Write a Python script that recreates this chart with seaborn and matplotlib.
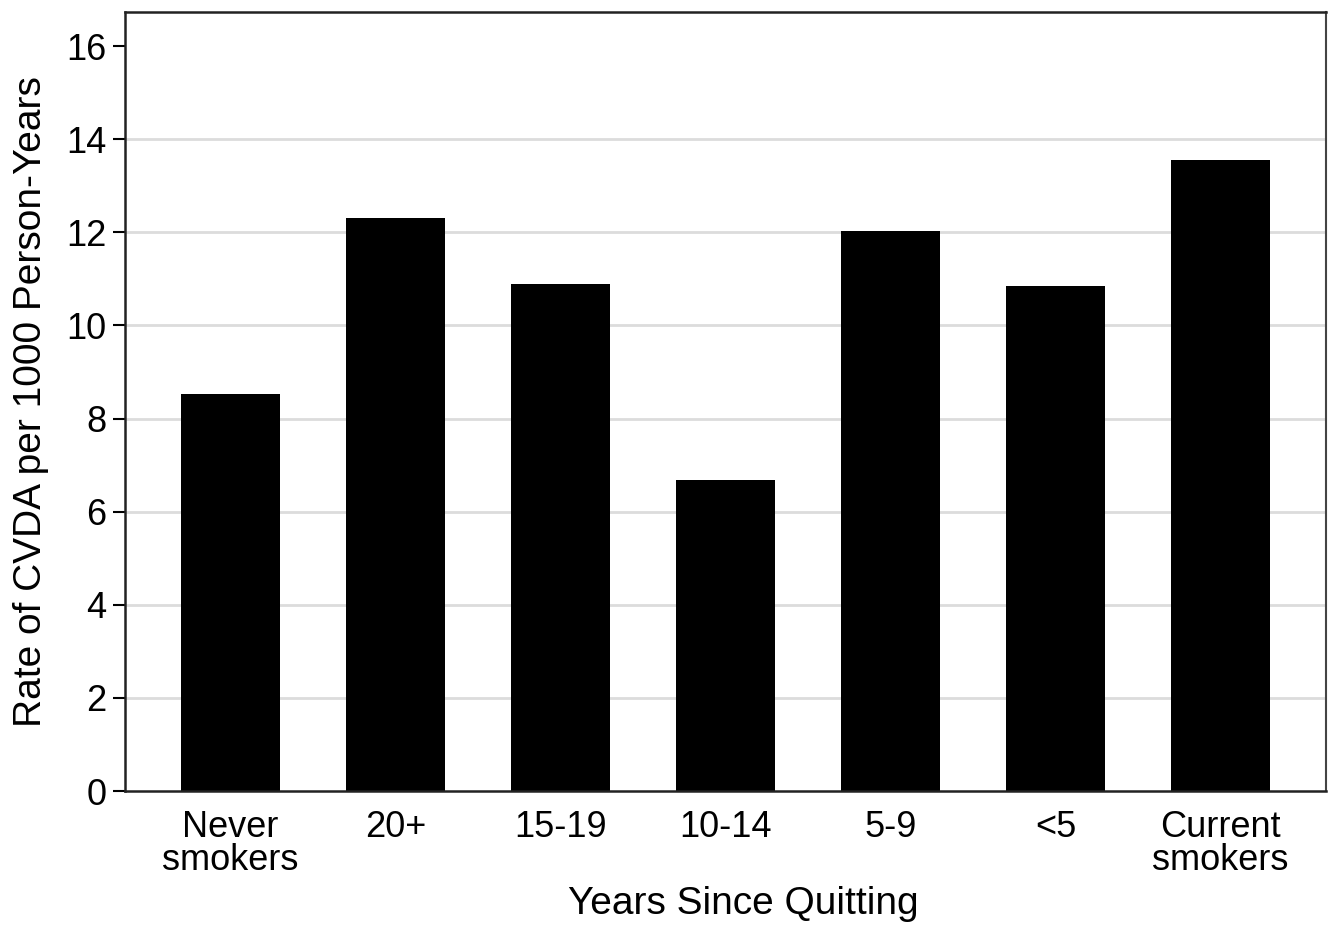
import matplotlib
matplotlib.use("Agg")
import matplotlib.pyplot as plt
import seaborn as sns
import pandas as pd

categories = ["Never\nsmokers", "20+", "15-19", "10-14", "5-9", "<5", "Current\nsmokers"]
rates = [8.53, 12.31, 10.89, 6.68, 12.03, 10.85, 13.55]
yticks = [0, 2, 4, 6, 8, 10, 12, 14, 16]

sns.set_theme(style="white")
plt.rcParams['font.family'] = ['Liberation Sans', 'DejaVu Sans']
plt.rcParams['text.color'] = 'black'
plt.rcParams['axes.labelcolor'] = 'black'
plt.rcParams['xtick.color'] = 'black'
plt.rcParams['ytick.color'] = 'black'

df = pd.DataFrame({"cat": categories, "rate": rates})

fig = plt.figure(figsize=(13.34, 9.27), dpi=100)
ax = fig.add_axes([0.0937, 0.1467, 0.9003, 0.8403])

ax.set_axisbelow(True)
for t in yticks[1:-1]:
    ax.axhline(t, color="#dcdcdc", lw=2, zorder=0)

sns.barplot(data=df, x="cat", y="rate", color="black", width=0.6,
            saturation=1, edgecolor="none", ax=ax, zorder=2)

ax.set_xlim(-0.64, 6.64)
ax.set_ylim(0, 16.73)
ax.set_yticks(yticks)
ax.tick_params(axis="y", length=8.5, width=1.5, color="black", labelsize=26, pad=5, left=True)
ax.tick_params(axis="x", length=0, labelsize=26, pad=14)
for lbl in ax.get_xticklabels():
    lbl.set_linespacing(0.9)
ax.set_xlabel("Years Since Quitting", fontsize=28, labelpad=6, x=0.515)
ax.set_ylabel("Rate of CVDA per 1000 Person-Years", fontsize=28, labelpad=12)

for s in ["left", "bottom", "top"]:
    ax.spines[s].set_color("#222222")
    ax.spines[s].set_linewidth(1.8)
ax.spines["right"].set_color("#444444")
ax.spines["right"].set_linewidth(1.5)

fig.savefig("out.png", dpi=100, facecolor="white")
